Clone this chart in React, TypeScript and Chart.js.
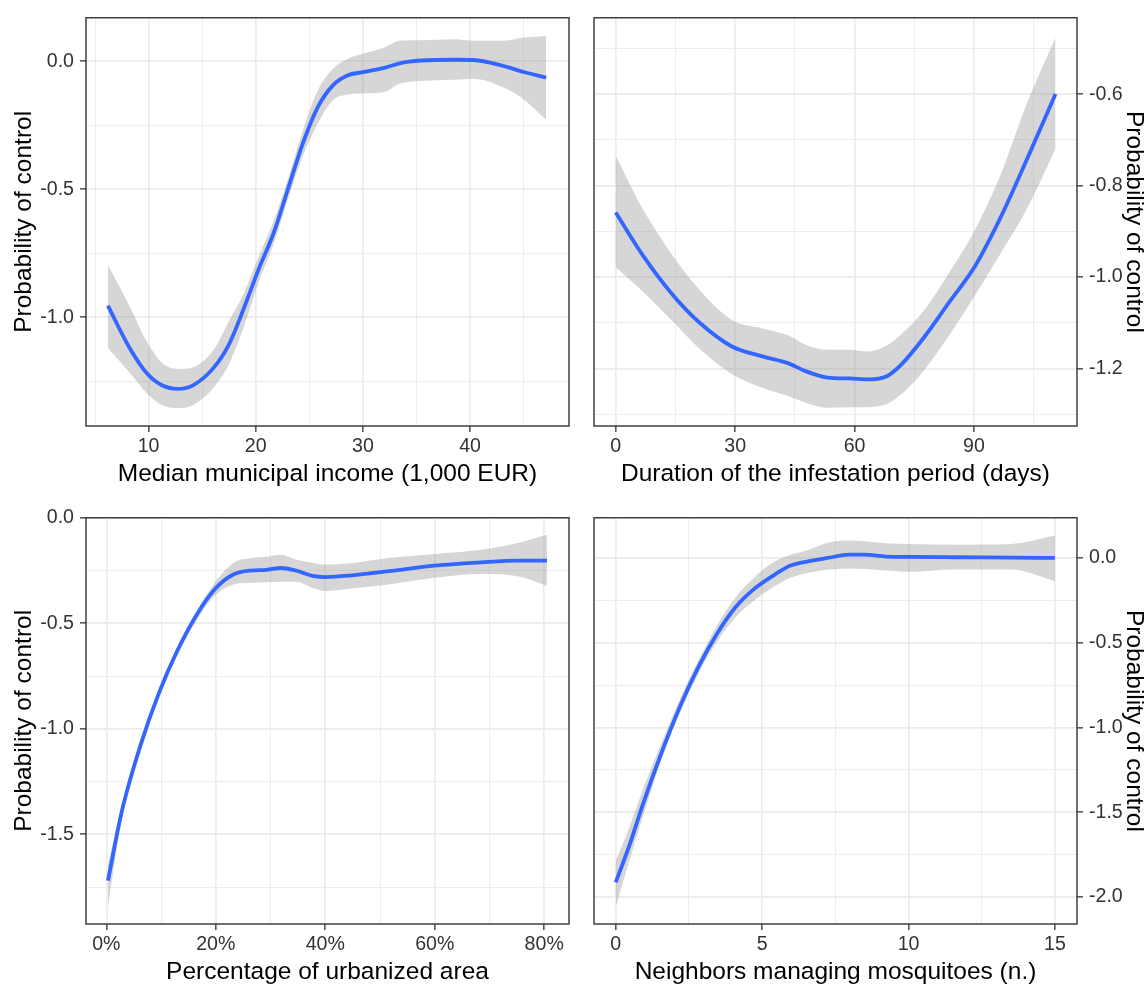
import React, { useEffect, useRef } from "react";
import { Chart, registerables } from "chart.js";
Chart.register(...registerables);

// ---------- Panel 1: Median municipal income ----------
const incomeX = [6.2, 8.2, 9.9, 11.3, 12.7, 14.1, 16.1, 17.5, 18.9, 20.3, 21.7, 23.0, 24.4, 25.8, 27.2, 28.6, 29.9, 32.0, 33.4, 35.4, 38.6, 40.3, 43.0, 45.1, 47.1];
const incomeFit = [-0.955, -1.118, -1.222, -1.267, -1.28, -1.267, -1.196, -1.106, -0.964, -0.809, -0.668, -0.5, -0.32, -0.178, -0.094, -0.055, -0.043, -0.026, -0.008, 0.003, 0.006, 0.005, -0.017, -0.043, -0.064];
const incomeUpper = [-0.795, -0.955, -1.1, -1.18, -1.202, -1.196, -1.125, -1.015, -0.905, -0.76, -0.62, -0.46, -0.27, -0.113, -0.03, 0.01, 0.028, 0.054, 0.08, 0.082, 0.086, 0.08, 0.08, 0.093, 0.099];
const incomeLower = [-1.12, -1.215, -1.3, -1.344, -1.355, -1.344, -1.273, -1.183, -1.035, -0.86, -0.71, -0.54, -0.37, -0.242, -0.152, -0.13, -0.126, -0.12, -0.088, -0.077, -0.072, -0.068, -0.1, -0.152, -0.229];
const incomeXMajor = [10, 20, 30, 40];
const incomeXMinor = [5, 15, 25, 35, 45];
const incomeYMajor = [0, -0.5, -1.0];
const incomeYMinor = [-0.25, -0.75, -1.25];

// ---------- Panel 2: Duration of infestation ----------
const durationX = [0, 6.9, 14.4, 20.8, 29.2, 36.6, 43.1, 47.7, 53.2, 58.8, 63.4, 68.1, 71.8, 77.3, 83.8, 90.3, 96.8, 103.2, 110.5];
const durationFit = [-0.859, -0.954, -1.04, -1.098, -1.152, -1.173, -1.188, -1.206, -1.22, -1.222, -1.224, -1.217, -1.191, -1.134, -1.055, -0.976, -0.868, -0.745, -0.6];
const durationUpper = [-0.735, -0.853, -0.954, -1.026, -1.094, -1.112, -1.127, -1.148, -1.159, -1.159, -1.163, -1.15, -1.125, -1.075, -0.99, -0.896, -0.774, -0.623, -0.476];
const durationLower = [-0.979, -1.033, -1.098, -1.155, -1.213, -1.242, -1.26, -1.275, -1.286, -1.285, -1.285, -1.278, -1.256, -1.206, -1.127, -1.04, -0.947, -0.853, -0.72];
const durationXMajor = [0, 30, 60, 90];
const durationXMinor = [15, 45, 75, 105];
const durationYMajor = [-0.6, -0.8, -1.0, -1.2];
const durationYMinor = [-0.5, -0.7, -0.9, -1.1, -1.3];

// ---------- Panel 3: Urbanized area (%) ----------
const urbanX = [0.3, 2.8, 6.2, 9.6, 13.0, 16.4, 19.8, 23.2, 26.5, 29.2, 31.9, 34.6, 38.0, 40.0, 44.8, 51.6, 60.0, 68.5, 75.2, 80.5];
const urbanFit = [-1.719, -1.394, -1.081, -0.831, -0.628, -0.464, -0.339, -0.269, -0.25, -0.247, -0.238, -0.25, -0.277, -0.281, -0.273, -0.253, -0.227, -0.211, -0.203, -0.203];
const urbanUpper = [-1.644, -1.363, -1.058, -0.81, -0.613, -0.445, -0.308, -0.214, -0.191, -0.185, -0.175, -0.198, -0.215, -0.222, -0.215, -0.191, -0.172, -0.152, -0.12, -0.081];
const urbanLower = [-1.839, -1.433, -1.113, -0.855, -0.652, -0.49, -0.37, -0.316, -0.308, -0.305, -0.303, -0.303, -0.335, -0.347, -0.335, -0.316, -0.284, -0.266, -0.277, -0.323];
const urbanXMajor = [0, 20, 40, 60, 80];
const urbanXMinor = [10, 30, 50, 70];
const urbanYMajor = [0, -0.5, -1.0, -1.5];
const urbanYMinor = [-0.25, -0.75, -1.25, -1.75];

// ---------- Panel 4: Neighbors managing mosquitoes ----------
const neighX = [0, 0.44, 0.94, 1.57, 2.2, 2.83, 3.46, 4.09, 4.72, 5.35, 5.97, 6.6, 7.23, 7.99, 8.49, 9.24, 10, 11.6, 13.5, 15];
const neighFit = [-1.913, -1.709, -1.447, -1.146, -0.874, -0.641, -0.447, -0.291, -0.184, -0.107, -0.045, -0.019, 0.0, 0.019, 0.019, 0.008, 0.006, 0.004, 0.002, 0.0];
const neighUpper = [-1.786, -1.6, -1.36, -1.087, -0.83, -0.602, -0.398, -0.233, -0.117, -0.029, 0.019, 0.049, 0.09, 0.103, 0.098, 0.087, 0.082, 0.078, 0.082, 0.132];
const neighLower = [-2.058, -1.8, -1.52, -1.184, -0.91, -0.68, -0.495, -0.35, -0.252, -0.175, -0.117, -0.087, -0.07, -0.062, -0.065, -0.074, -0.082, -0.068, -0.068, -0.136];
const neighXMajor = [0, 5, 10, 15];
const neighXMinor = [2.5, 7.5, 12.5];
const neighYMajor = [0, -0.5, -1.0, -1.5, -2.0];
const neighYMinor = [-0.25, -0.75, -1.25, -1.75];

const yTitle = "Probability of control";
const FONT = "'Liberation Sans', Arial, Helvetica, sans-serif";

const fmt1 = (v: number) => (Math.abs(v) < 1e-9 ? "0.0" : v.toFixed(1));
const fmtInt = (v: number) => String(Math.round(v));
const fmtPct = (v: number) => Math.round(v) + "%";

const panels = [
  {
    key: "p1", left: 0, top: 0, w: 580, h: 500,
    pad: { left: 0, top: 13, right: 11, bottom: 0 }, yPos: "left", yW: 86, xH: 74,
    xTitle: "Median municipal income (1,000 EUR)", xTitlePad: 13.75, yTitlePad: 11.75,
    xMin: 4.158, xMax: 49.23, yMin: -1.425, yMax: 0.17,
    x: incomeX, fit: incomeFit, upper: incomeUpper, lower: incomeLower,
    xMajor: incomeXMajor, xMinor: incomeXMinor, yMajor: incomeYMajor, yMinor: incomeYMinor,
    xFmt: fmtInt, yFmt: fmt1,
  },
  {
    key: "p2", left: 580, top: 0, w: 567, h: 500,
    pad: { left: 14, top: 13, right: 0, bottom: 0 }, yPos: "right", yW: 70, xH: 74,
    xTitle: "Duration of the infestation period (days)", xTitlePad: 13.75, yTitlePad: 0.75,
    xMin: -5.46, xMax: 115.9, yMin: -1.326, yMax: -0.433,
    x: durationX, fit: durationFit, upper: durationUpper, lower: durationLower,
    xMajor: durationXMajor, xMinor: durationXMinor, yMajor: durationYMajor, yMinor: durationYMinor,
    xFmt: fmtInt, yFmt: fmt1,
  },
  {
    key: "p3", left: 0, top: 500, w: 580, h: 484,
    pad: { left: 0, top: 12, right: 11, bottom: 0 }, yPos: "left", yW: 86, xH: 60,
    xTitle: "Percentage of urbanized area", xTitlePad: 0, yTitlePad: 11.75,
    xMin: -3.72, xMax: 84.53, yMin: -1.925, yMax: 0.0,
    x: urbanX, fit: urbanFit, upper: urbanUpper, lower: urbanLower,
    xMajor: urbanXMajor, xMinor: urbanXMinor, yMajor: urbanYMajor, yMinor: urbanYMinor,
    xFmt: fmtPct, yFmt: fmt1,
  },
  {
    key: "p4", left: 580, top: 500, w: 567, h: 484,
    pad: { left: 14, top: 12, right: 0, bottom: 0 }, yPos: "right", yW: 70, xH: 60,
    xTitle: "Neighbors managing mosquitoes (n.)", xTitlePad: 0, yTitlePad: 0.75,
    xMin: -0.742, xMax: 15.754, yMin: -2.159, yMax: 0.237,
    x: neighX, fit: neighFit, upper: neighUpper, lower: neighLower,
    xMajor: neighXMajor, xMinor: neighXMinor, yMajor: neighYMajor, yMinor: neighYMinor,
    xFmt: fmtInt, yFmt: fmt1,
  },
];

const inList = (v: number, list: number[]) => list.some((m) => Math.abs(m - v) < 1e-9);

const borderPlugin = {
  id: "panelBorder",
  afterDatasetsDraw(chart: any) {
    const { ctx, chartArea } = chart;
    ctx.save();
    ctx.strokeStyle = "#333333";
    ctx.lineWidth = 1.4;
    ctx.strokeRect(chartArea.left, chartArea.top, chartArea.right - chartArea.left, chartArea.bottom - chartArea.top);
    ctx.restore();
  },
};

function axisOpts(major: number[], minor: number[], fmt: (v: number) => string) {
  const all = [...major, ...minor].sort((a, b) => a - b);
  return {
    afterBuildTicks: (s: any) => {
      s.ticks = all.map((v) => ({ value: v }));
    },
    ticks: {
      autoSkip: false,
      maxRotation: 0,
      minRotation: 0,
      color: "#333333",
      font: { family: FONT, size: 19.6 },
      callback: (v: any) => (inList(Number(v), major) ? fmt(Number(v)) : ""),
    },
    grid: {
      drawOnChartArea: true,
      color: "#EBEBEB",
      lineWidth: (c: any) => (c.tick && inList(c.tick.value, major) ? 1.7 : 0.9),
      tickLength: 6,
      tickWidth: 1.3,
      tickColor: (c: any) => (c.tick && inList(c.tick.value, major) ? "#333333" : "rgba(0,0,0,0)"),
    },
    border: { display: false },
  };
}

function Panel({ cfg }: { cfg: any }) {
  const ref = useRef<HTMLCanvasElement | null>(null);
  useEffect(() => {
    if (!ref.current) return;
    const xo = axisOpts(cfg.xMajor, cfg.xMinor, cfg.xFmt);
    const yo = axisOpts(cfg.yMajor, cfg.yMinor, cfg.yFmt);
    const chart = new Chart(ref.current, {
      type: "line",
      data: {
        datasets: [
          {
            data: cfg.x.map((x: number, i: number) => ({ x, y: cfg.fit[i] })),
            borderColor: "#3366FF",
            borderWidth: 3.8,
            pointRadius: 0,
            fill: false,
            cubicInterpolationMode: "monotone",
          },
          {
            data: cfg.x.map((x: number, i: number) => ({ x, y: cfg.upper[i] })),
            borderColor: "rgba(0,0,0,0)",
            borderWidth: 1,
            pointRadius: 0,
            fill: false,
            cubicInterpolationMode: "monotone",
          },
          {
            data: cfg.x.map((x: number, i: number) => ({ x, y: cfg.lower[i] })),
            borderColor: "rgba(0,0,0,0)",
            borderWidth: 1,
            pointRadius: 0,
            fill: "-1",
            backgroundColor: "rgba(153,153,153,0.4)",
            cubicInterpolationMode: "monotone",
          },
        ],
      } as any,
      options: {
        animation: false,
        responsive: false,
        devicePixelRatio: 1,
        layout: { padding: cfg.pad },
        plugins: { legend: { display: false }, tooltip: { enabled: false } },
        scales: {
          x: {
            type: "linear",
            position: "bottom",
            min: cfg.xMin,
            max: cfg.xMax,
            ...xo,
            ticks: { ...xo.ticks, padding: 3 },
            afterFit: (s: any) => {
              s.height = cfg.xH;
            },
            title: {
              display: true,
              text: cfg.xTitle,
              color: "#000000",
              font: { family: FONT, size: 24.5, lineHeight: 1 },
              padding: { top: 0, bottom: cfg.xTitlePad },
            },
          },
          y: {
            type: "linear",
            position: cfg.yPos,
            min: cfg.yMin,
            max: cfg.yMax,
            ...yo,
            ticks: { ...yo.ticks, padding: 6 },
            afterFit: (s: any) => {
              s.width = cfg.yW;
            },
            title: {
              display: true,
              text: yTitle,
              color: "#000000",
              font: { family: FONT, size: 24.5, lineHeight: 1 },
              padding: { top: cfg.yTitlePad, bottom: 0 },
            },
          },
        },
      } as any,
      plugins: [borderPlugin],
    });
    return () => chart.destroy();
  }, [cfg]);
  return (
    <canvas
      ref={ref}
      width={cfg.w}
      height={cfg.h}
      style={{ position: "absolute", left: cfg.left, top: cfg.top, width: cfg.w, height: cfg.h }}
    />
  );
}

export default function App() {
  return (
    <div
      style={{
        position: "absolute",
        left: 0,
        top: 0,
        width: 1147,
        height: 984,
        overflow: "hidden",
        background: "#ffffff",
      }}
    >
      {panels.map((p) => (
        <Panel key={p.key} cfg={p} />
      ))}
    </div>
  );
}
